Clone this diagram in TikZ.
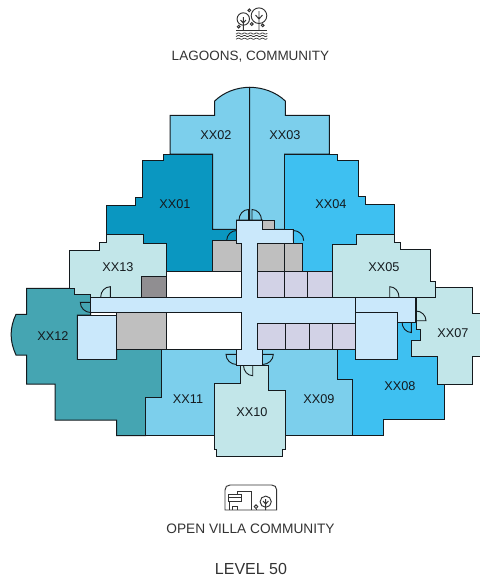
\documentclass[tikz,border=0pt]{standalone}
\usepackage{fontspec}
\setmainfont{Liberation Sans}
\usetikzlibrary{calc}
\definecolor{cDeep}{HTML}{0A97C1}
\definecolor{cSky}{HTML}{7CCFEC}
\definecolor{cBright}{HTML}{3EC0F1}
\definecolor{cMint}{HTML}{C2E6E9}
\definecolor{cTeal}{HTML}{45A5B2}
\definecolor{cPale}{HTML}{CAE8FB}
\definecolor{cGrey}{HTML}{BFBFBF}
\definecolor{cDark}{HTML}{908E91}
\definecolor{cLav}{HTML}{D2D2E6}
\definecolor{cInk}{HTML}{141A1E}
\definecolor{cText}{HTML}{333333}
\tikzset{
  wall/.style={draw=cInk,line width=1pt,line join=miter},
  roomlabel/.style={font=\fontsize{12.7}{14}\selectfont,text=cInk,inner sep=0pt},
  caption/.style={font=\fontsize{13.5}{15}\selectfont,text=cText,inner sep=0pt},
  doorstroke/.style={draw=cInk,line width=0.9pt},
  iconline/.style={draw=cText,line width=0.95pt}
}
\newcommand\doorleaf[3]{\draw[doorstroke] (#1) -- (#2) .. controls ($(#2)+0.5523*(#3)-0.5523*(#1)$) and ($(#3)+0.5523*(#2)-0.5523*(#1)$) .. (#3);}
\begin{document}
\begin{tikzpicture}[x=1pt,y=-1pt]
\useasboundingbox (0,0) rectangle (480,582);
% apartments
\path[wall,fill=cSky] (249.7,87.3) .. controls (237,87.3) and (224,92) .. (214.7,101) -- (214.7,115.3) -- (170,115.3) -- (170,154) -- (212.7,154) -- (212.7,229.3) -- (236.7,229.3) -- (236.7,220) -- (249.7,220) -- cycle;
\path[wall,fill=cSky] (249.7,87.3) .. controls (262.4,87.3) and (276,92) .. (285.3,101) -- (285.3,115.3) -- (329.3,115.3) -- (329.3,154) -- (284.7,154) -- (284.7,229.3) -- (262.3,229.3) -- (262.3,220) -- (249.7,220) -- cycle;
\path[wall,fill=cDeep] (163,154) -- (212.7,154) -- (212.7,229.3) -- (236.7,229.3) -- (236.7,240.7) -- (212.3,240.7) -- (212.3,272) -- (166.3,272) -- (166.3,243.3) -- (143.3,243.3) -- (143.3,234.3) -- (106.3,234.3) -- (106.3,205) -- (135.7,205) -- (135.7,197) -- (142.7,197) -- (142.7,160) -- (163,160) -- cycle;
\path[wall,fill=cBright] (284.7,154) -- (337.3,154) -- (337.3,160) -- (358,160) -- (358,196) -- (365.7,196) -- (365.7,204.3) -- (394,204.3) -- (394,244) -- (332.3,244) -- (332.3,272) -- (302.7,272) -- (302.7,243.3) -- (293.3,243.3) -- (293.3,229.3) -- (284.7,229.3) -- cycle;
\path[wall,fill=cTeal] (26.7,288.3) -- (26.7,314.3) -- (16,314.3) .. controls (9.5,328) and (9.5,341) .. (16,355) -- (26.7,355) -- (26.7,384) -- (55,384) -- (55,420) -- (116.7,420) -- (116.7,435.7) -- (145.7,435.7) -- (145.7,397.7) -- (161.7,397.7) -- (161.7,349) -- (116.7,349) -- (116.7,359.3) -- (77.3,359.3) -- (77.3,315) -- (90.7,315) -- (90.7,294.3) -- (74.7,294.3) -- (74.7,288.3) -- cycle;
\path[wall,fill=cSky] (161.7,349) -- (236.7,349) -- (236.7,365.3) -- (240,365.3) -- (240,383.3) -- (214.3,383.3) -- (214.3,435.7) -- (145.7,435.7) -- (145.7,397.7) -- (161.7,397.7) -- cycle;
\path[wall,fill=cSky] (262.3,349) -- (337.3,349) -- (337.3,379.3) -- (352.7,379.3) -- (352.7,435.7) -- (285.7,435.7) -- (285.7,390.7) -- (268.7,390.7) -- (268.7,365.3) -- (262.3,365.3) -- cycle;
\path[wall,fill=cBright] (337.3,349) -- (337.3,379.3) -- (352.7,379.3) -- (352.7,435.7) -- (383,435.7) -- (383,419.7) -- (444,419.7) -- (444,384) -- (437.7,384) -- (437.7,356) -- (411.7,356) -- (411.7,340) -- (420,340) -- (420,329.3) -- (416,329.3) -- (416,322) -- (397.7,322) -- (397.7,349) -- cycle;
\path[wall,fill=cMint] (69.7,250) -- (99.3,250) -- (99.3,242.7) -- (106.3,242.7) -- (106.3,234.3) -- (143.3,234.3) -- (143.3,243.3) -- (166.3,243.3) -- (166.3,297.3) -- (90.7,297.3) -- (90.7,294.3) -- (74.7,294.3) -- (74.7,288.3) -- (69.7,288.3) -- cycle;
\path[wall,fill=cMint] (332.3,244) -- (356.7,244) -- (356.7,234.7) -- (394,234.7) -- (394,242.7) -- (400,242.7) -- (400,249.3) -- (430,249.3) -- (430,281) -- (435,281) -- (435,297.3) -- (332.3,297.3) -- cycle;
\path[wall,fill=cMint] (416,297.3) -- (435,297.3) -- (435,287.3) -- (472.3,287.3) -- (472.3,313.3) -- (481,313.3) -- (481,356) -- (472.3,356) -- (472.3,384) -- (437.7,384) -- (437.7,356) -- (411.7,356) -- (411.7,340) -- (420,340) -- (420,329.3) -- (416,329.3) -- cycle;
\path[wall,fill=cMint] (240,365.3) -- (268.7,365.3) -- (268.7,390.7) -- (285.7,390.7) -- (285.7,449) -- (282.7,449) -- (282.7,456.7) -- (216.7,456.7) -- (216.7,449) -- (214.3,449) -- (214.3,383.3) -- (240,383.3) -- cycle;
% service rooms
\path[wall,fill=cGrey] (262.3,220) rectangle (274.3,229.3);
\path[wall,fill=cGrey] (212.3,240.7) rectangle (241.7,271.7);
\path[wall,fill=cGrey] (257.3,243.3) rectangle (284.3,271.7);
\path[wall,fill=cGrey] (284.3,243.3) rectangle (302.7,271.7);
\path[wall,fill=cDark] (141,276) rectangle (166.3,297.3);
\path[wall,fill=cGrey] (116.7,312.3) rectangle (166.7,349);
\path[wall,fill=white] (166.7,271.7) rectangle (241.7,297.3);
\path[wall,fill=white] (166.7,312.3) rectangle (241.7,349);
\path[wall,fill=cLav] (257.3,271.7) rectangle (284.3,297.3);
\path[wall,fill=cLav] (284.3,271.7) rectangle (307,297.3);
\path[wall,fill=cLav] (307,271.7) rectangle (332.3,297.3);
\path[wall,fill=cLav] (257.3,323.3) rectangle (285.5,349);
\path[wall,fill=cLav] (285.5,323.3) rectangle (309.3,349);
\path[wall,fill=cLav] (309.3,323.3) rectangle (332.7,349);
\path[wall,fill=cLav] (332.7,323.3) rectangle (355,349);
\path[wall,fill=cPale] (77.3,315) rectangle (116.7,359.3);
\path[wall,fill=cPale] (355.3,312.7) rectangle (397.7,359.3);
% corridor
\path[wall,fill=cPale] (236.7,220) -- (262.3,220) -- (262.3,229.3) -- (293.3,229.3) -- (293.3,243.3) -- (257.3,243.3) -- (257.3,297.3) -- (415.7,297.3) -- (415.7,322) -- (397.7,322) -- (397.7,312.7) -- (355,312.7) -- (355,323.3) -- (257.3,323.3) -- (257.3,349) -- (262.3,349) -- (262.3,365.3) -- (236.7,365.3) -- (236.7,349) -- (241.7,349) -- (241.7,312.3) -- (90.7,312.3) -- (90.7,297.3) -- (241.7,297.3) -- (241.7,243.3) -- (236.7,243.3) -- cycle;
\coordinate (dvT) at (355,297.3);
\coordinate (dvB) at (355,323.3);
\draw[wall] (dvT) -- (dvB);
% doors
\coordinate (h1) at (248.5,220); \coordinate (l1) at (248.5,209.5); \coordinate (s1) at (239,220);
\coordinate (h2) at (252,220); \coordinate (l2) at (252,209.5); \coordinate (s2) at (261.5,220);
\coordinate (h3) at (236.7,240.5); \coordinate (l3) at (226.7,240.5); \coordinate (s3) at (236.7,230.5);
\coordinate (h4) at (293.3,240.7); \coordinate (l4) at (293.3,230.5); \coordinate (s4) at (303.7,240.7);
\coordinate (h5) at (110.3,297); \coordinate (l5) at (110.3,286.7); \coordinate (s5) at (100.7,297);
\coordinate (h6) at (90.7,302.3); \coordinate (l6) at (80.3,302.3); \coordinate (s6) at (90.7,312.5);
\coordinate (h7) at (389.7,297); \coordinate (l7) at (389.7,286.7); \coordinate (s7) at (399,297);
\coordinate (h8) at (416,320.7); \coordinate (l8) at (426,320.7); \coordinate (s8) at (416,311);
\coordinate (h9) at (411.3,322); \coordinate (l9) at (411.3,332.5); \coordinate (s9) at (402,322);
\coordinate (h10) at (236.7,354.3); \coordinate (l10) at (226,354.3); \coordinate (s10) at (236.7,364.5);
\coordinate (h11) at (262.3,354.3); \coordinate (l11) at (273.3,354.3); \coordinate (s11) at (262.3,364.5);
\coordinate (h12) at (252.7,365.3); \coordinate (l12) at (252.7,375.7); \coordinate (s12) at (243.5,365.3);
\doorleaf{h1}{l1}{s1}\doorleaf{h2}{l2}{s2}\doorleaf{h3}{l3}{s3}\doorleaf{h4}{l4}{s4}
\doorleaf{h5}{l5}{s5}\doorleaf{h6}{l6}{s6}\doorleaf{h7}{l7}{s7}\doorleaf{h8}{l8}{s8}
\doorleaf{h9}{l9}{s9}\doorleaf{h10}{l10}{s10}\doorleaf{h11}{l11}{s11}\doorleaf{h12}{l12}{s12}
% unit labels
\node[roomlabel] (n01) at (175,204) {XX01};
\node[roomlabel] (n02) at (216,135.5) {XX02};
\node[roomlabel] (n03) at (285,135.5) {XX03};
\node[roomlabel] (n04) at (331,204) {XX04};
\node[roomlabel] (n05) at (384,267) {XX05};
\node[roomlabel] (n07) at (453,333) {XX07};
\node[roomlabel] (n08) at (400,386) {XX08};
\node[roomlabel] (n09) at (319,399) {XX09};
\node[roomlabel] (n10) at (252,412) {XX10};
\node[roomlabel] (n11) at (188,399) {XX11};
\node[roomlabel] (n12) at (53,336) {XX12};
\node[roomlabel] (n13) at (118,267) {XX13};
% captions
\node[caption] (capT) at (250.5,56.5) {LAGOONS, COMMUNITY};
\node[caption,font=\fontsize{13.7}{15}\selectfont] (capB) at (250.5,528.5) {OPEN VILLA COMMUNITY};
\node[caption,font=\fontsize{16}{18}\selectfont] (capL) at (251,568.5) {LEVEL 50};
% lagoon icon
\draw[iconline] (259,15.7) circle (7.8);
\draw[iconline] (243.3,19) circle (6.2);
\draw[iconline] (259,11) -- (259,30.7) (255.5,15) -- (259,19) -- (262.5,15);
\draw[iconline] (243.3,17) -- (243.3,30.7) (240.5,20) -- (243.3,23) -- (246,20);
\foreach \cx/\cy in {249.3/10.3,238.7/26.7,251.7/24,262.7/25.3} \draw[iconline] (\cx,\cy) circle (1.4);
\draw[iconline] (236,30.7) -- (267.3,30.7);
\foreach \wy in {33.5,36,38.7} \draw[iconline,line width=0.7pt] plot[smooth,domain=236:267.3,samples=40] (\x,{\wy+0.6*sin(\x*60)});
% villa icon
\draw[iconline] (225,510) -- (225,490) .. controls (225,487) and (227,485) .. (230,485) -- (271.7,485) .. controls (274.7,485) and (276.7,487) .. (276.7,490) -- (276.7,510) -- cycle;
\draw[iconline] (237.3,494) -- (237.3,491) -- (251,491) -- (251,510);
\draw[iconline] (228.3,494) rectangle (241.7,501.7);
\draw[iconline] (228.3,497.8) -- (241.7,497.8);
\draw[iconline] (229.5,501.7) -- (229.5,510);
\draw[iconline] (232.7,510) -- (232.7,506) -- (237.3,506) -- (237.3,510);
\draw[iconline] (256,506.7) circle (1.8);
\draw[iconline] (256,508.5) -- (256,510);
\draw[iconline] (265.7,501.7) circle (5.6);
\draw[iconline] (265.7,499) -- (265.7,510) (263,501) -- (265.7,504) -- (268.4,501);
\end{tikzpicture}
\end{document}
